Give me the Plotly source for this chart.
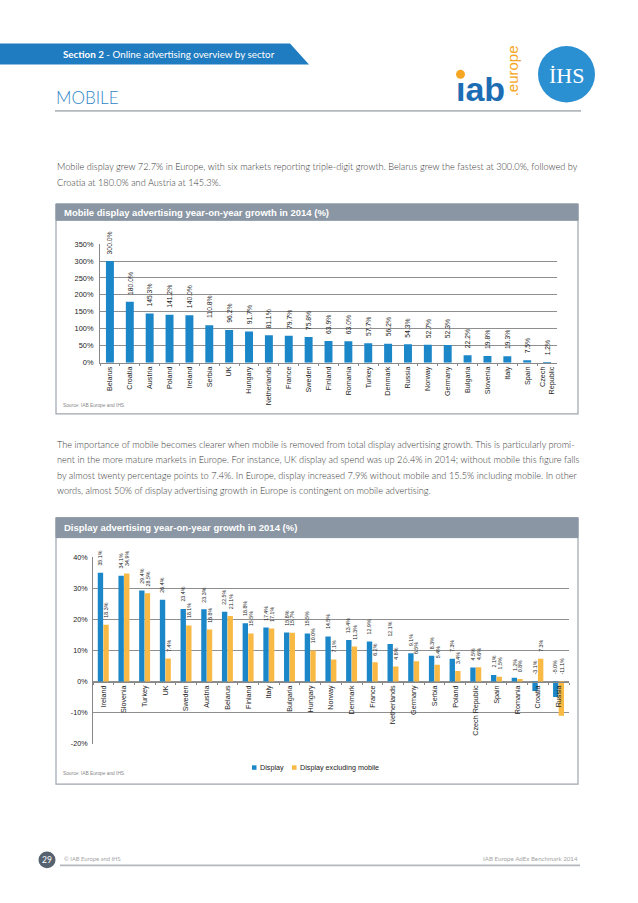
import plotly.graph_objects as go

W, H = 638, 903

# ---------------- data ----------------
mobile_countries = ["Belarus", "Croatia", "Austria", "Poland", "Ireland", "Serbia", "UK",
                    "Hungary", "Netherlands", "France", "Sweden", "Finland", "Romania",
                    "Turkey", "Denmark", "Russia", "Norway", "Germany", "Bulgaria",
                    "Slovenia", "Italy", "Spain", "Czech Republic"]
mobile_growth = [300.0, 180.0, 145.3, 141.2, 140.0, 110.8, 96.2, 91.7, 81.1, 79.7, 75.8,
                 63.9, 63.0, 57.7, 56.2, 54.3, 52.7, 52.3, 22.2, 19.8, 19.3, 7.5, 1.2]
mobile_ticklabels = ["Belarus", "Croatia", "Austria", "Poland", "Ireland", "Serbia", "UK",
                     "Hungary", "Netherlands", "France", "Sweden", "Finland", "Romania",
                     "Turkey", "Denmark", "Russia", "Norway", "Germany", "Bulgaria",
                     "Slovenia", "Italy", "Spain", "Czech<br>Republic"]
mobile_yticks = [0, 50, 100, 150, 200, 250, 300, 350]
mobile_yticklabels = ["0%", "50%", "100%", "150%", "200%", "250%", "300%", "350%"]

display_countries = ["Ireland", "Slovenia", "Turkey", "UK", "Sweden", "Austria", "Belarus",
                     "Finland", "Italy", "Bulgaria", "Hungary", "Norway", "Denmark", "France",
                     "Netherlands", "Germany", "Serbia", "Poland", "Czech Republic", "Spain",
                     "Romania", "Croatia", "Russia"]
display_growth = [35.1, 34.1, 29.4, 26.4, 23.4, 23.3, 22.5, 18.8, 17.4, 15.8, 15.5, 14.5,
                  13.4, 12.9, 12.1, 9.1, 8.3, 7.3, 4.5, 2.1, 1.2, -3.1, -5.0]
display_ex_mobile = [18.3, 34.9, 28.5, 7.4, 18.1, 16.8, 21.1, 15.5, 17.1, 15.7, 10.0, 7.1,
                     11.3, 6.2, 4.8, 6.5, 5.4, 3.4, 4.6, 1.5, 0.8, 7.3, -11.1]
display_yticks = [-20, -10, 0, 10, 20, 30, 40]
display_yticklabels = ["-20%", "-10%", "0%", "10%", "20%", "30%", "40%"]

series_names = ["Display", "Display excluding mobile"]

para1 = [
    "Mobile display grew 72.7% in Europe, with six markets reporting triple-digit growth. Belarus grew the fastest at 300.0%, followed by",
    "Croatia at 180.0% and Austria at 145.3%.",
]
para2 = [
    "The importance of mobile becomes clearer when mobile is removed from total display advertising growth. This is particularly promi-",
    "nent in the more mature markets in Europe. For instance, UK display ad spend was up 26.4% in 2014; without mobile this figure falls",
    "by almost twenty percentage points to 7.4%. In Europe, display increased 7.9% without mobile and 15.5% including mobile. In other",
    "words, almost 50% of display advertising growth in Europe is contingent on mobile advertising.",
]

# ---------------- style ----------------
BLUE = "#1b87c9"
ORANGE = "#f8b945"
SERIES_COLORS = [BLUE, ORANGE]
TITLEBAR = "#8a96a3"
BOXLINE = "#9ea6af"
GRID = "#8f8f8f"
CHART_FONT = "Liberation Sans, Arial, sans-serif"
PAGE_FONT = "Lato, Open Sans, sans-serif"


def fx(x):
    return x / W


def fy(y):
    return 1 - y / H


fig = go.Figure()

# chart 1 bars
fig.add_trace(go.Bar(
    x=mobile_countries, y=mobile_growth, marker=dict(color=BLUE, line=dict(width=0)),
    width=0.4, xaxis="x", yaxis="y", showlegend=False, hoverinfo="x+y",
))

# chart 2 bars
fig.add_trace(go.Bar(
    x=display_countries, y=display_growth, name=series_names[0],
    marker=dict(color=SERIES_COLORS[0], line=dict(width=0)), width=0.26, offset=-0.27,
    xaxis="x2", yaxis="y2", showlegend=False,
))
fig.add_trace(go.Bar(
    x=display_countries, y=display_ex_mobile, name=series_names[1],
    marker=dict(color=SERIES_COLORS[1], line=dict(width=0)), width=0.26, offset=0.0,
    xaxis="x2", yaxis="y2", showlegend=False,
))

annotations = []
shapes = []

# ---- data labels chart 1
for c, v in zip(mobile_countries, mobile_growth):
    annotations.append(dict(
        x=c, y=v, xref="x", yref="y", text=f"{v:.1f}%", showarrow=False,
        textangle=-90, xanchor="center", yanchor="bottom", yshift=5,
        font=dict(size=6.8, color="#222", family=CHART_FONT),
    ))

# ---- data labels chart 2
for c, v1, v2 in zip(display_countries, display_growth, display_ex_mobile):
    for v, sh in ((v1, -3), (v2, 3)):
        annotations.append(dict(
            x=c, y=max(v, 0), xref="x2", yref="y2", text=f"{v:.1f}%", showarrow=False,
            textangle=-90, xanchor="center", yanchor="bottom", yshift=5, xshift=sh,
            font=dict(size=5.3, color="#222", family=CHART_FONT),
        ))

# ---- page decorations
# section banner
banner = "M {} {} L {} {} L {} {} L {} {} Z".format(
    fx(0), fy(40), fx(290), fy(40), fx(309), fy(61), fx(0), fy(61))
shapes.append(dict(type="path", path=banner, xref="paper", yref="paper",
                   fillcolor="#1f7cc0", line=dict(width=0), layer="below"))
annotations.append(dict(
    x=fx(61), y=fy(51), xref="paper", yref="paper", xanchor="left", yanchor="middle",
    text="<b>Section 2</b> - Online advertising overview by sector", showarrow=False,
    font=dict(size=9.8, color="white", family=PAGE_FONT)))

annotations.append(dict(
    x=fx(54), y=fy(94), xref="paper", yref="paper", xanchor="left", yanchor="middle",
    text="MOBILE", showarrow=False,
    font=dict(size=17, color="#2f86c6", family=PAGE_FONT, weight=300)))
shapes.append(dict(type="line", xref="paper", yref="paper", x0=fx(55), x1=fx(581),
                   y0=fy(108), y1=fy(108), line=dict(color="#b3b8bd", width=1.6)))

# iab europe logo
annotations.append(dict(
    x=fx(454), y=fy(99), xref="paper", yref="paper", xanchor="left", yanchor="bottom",
    text="<b>\u0131ab</b>", showarrow=False, yshift=-8,
    font=dict(size=34, color="#1d6db5", family=CHART_FONT)))
shapes.append(dict(type="circle", xref="paper", yref="paper",
                   x0=fx(456), x1=fx(465), y0=fy(75.5), y1=fy(66.5),
                   fillcolor="#f5a623", line=dict(width=0)))
annotations.append(dict(
    x=fx(512), y=fy(68), xref="paper", yref="paper", xanchor="center", yanchor="middle",
    text=".europe", textangle=-90, showarrow=False,
    font=dict(size=15, color="#f5a623", family=CHART_FONT)))

# IHS logo
shapes.append(dict(type="circle", xref="paper", yref="paper",
                   x0=fx(538), x1=fx(595), y0=fy(99.5), y1=fy(42.5),
                   fillcolor="#2b90d2", line=dict(width=0)))
annotations.append(dict(
    x=fx(566.5), y=fy(72), xref="paper", yref="paper", xanchor="center", yanchor="middle",
    text="\u0130HS", showarrow=False,
    font=dict(size=22, color="white", family="Liberation Serif, DejaVu Serif, serif")))

# paragraphs
PARA_FONT = dict(size=9.2, color="#3a3a3a", family=PAGE_FONT, weight=300)
for i, line in enumerate(para1):
    annotations.append(dict(
        x=fx(55), y=fy(164.5 + 15.7 * i), xref="paper", yref="paper", xanchor="left",
        yanchor="middle", text=line, showarrow=False, font=PARA_FONT))
for i, line in enumerate(para2):
    annotations.append(dict(
        x=fx(55), y=fy(444.5 + 15.7 * i), xref="paper", yref="paper", xanchor="left",
        yanchor="middle", text=line, showarrow=False, font=PARA_FONT))

# chart boxes + title bars
for (top, tb, bottom, title) in ((202, 218.5, 414, "Mobile display advertising year-on-year growth in 2014 (%)"),
                                 (519, 539, 788, "Display advertising year-on-year growth in 2014 (%)")):
    shapes.append(dict(type="rect", xref="paper", yref="paper", x0=fx(56), x1=fx(578),
                       y0=fy(bottom), y1=fy(top), fillcolor="white",
                       line=dict(color=BOXLINE, width=1.2), layer="below"))
    shapes.append(dict(type="rect", xref="paper", yref="paper", x0=fx(56), x1=fx(578),
                       y0=fy(tb), y1=fy(top), fillcolor=TITLEBAR,
                       line=dict(color=TITLEBAR, width=1), layer="below"))
    annotations.append(dict(
        x=fx(62), y=fy((top + tb) / 2), xref="paper", yref="paper", xanchor="left",
        yanchor="middle", text=f"<b>{title}</b>", showarrow=False,
        font=dict(size=9.5, color="white", family=CHART_FONT)))

# sources
for ys in (406, 777):
    annotations.append(dict(
        x=fx(61), y=fy(ys), xref="paper", yref="paper", xanchor="left", yanchor="middle",
        text="Source: IAB Europe and IHS", showarrow=False,
        font=dict(size=4.8, color="#888", family=CHART_FONT)))

# legend for chart 2 (compact, as in the original)
legend_items = [(252, 258, series_names[0]), (292, 298, series_names[1])]
for (sx, tx, name), col in zip(legend_items, SERIES_COLORS):
    shapes.append(dict(type="rect", xref="paper", yref="paper", x0=fx(sx), x1=fx(sx + 4.5),
                       y0=fy(773.5), y1=fy(769), fillcolor=col, line=dict(width=0)))
    annotations.append(dict(
        x=fx(tx), y=fy(771.5), xref="paper", yref="paper", xanchor="left", yanchor="middle",
        text=name, showarrow=False, font=dict(size=7.2, color="#222", family=CHART_FONT)))

# footer
shapes.append(dict(type="circle", xref="paper", yref="paper",
                   x0=fx(38.5), x1=fx(55.5), y0=fy(873), y1=fy(856),
                   fillcolor="#566270", line=dict(width=0)))
annotations.append(dict(
    x=fx(47), y=fy(864.5), xref="paper", yref="paper", xanchor="center", yanchor="middle",
    text="29", showarrow=False, font=dict(size=8.5, color="white", family=PAGE_FONT)))
annotations.append(dict(
    x=fx(62), y=fy(863), xref="paper", yref="paper", xanchor="left", yanchor="middle",
    text="\u00a9 IAB Europe and IHS", showarrow=False,
    font=dict(size=5.8, color="#a5a5a5", family=PAGE_FONT)))
annotations.append(dict(
    x=fx(580), y=fy(863), xref="paper", yref="paper", xanchor="right", yanchor="middle",
    text="IAB Europe AdEx Benchmark 2014", showarrow=False,
    font=dict(size=6.2, color="#a5a5a5", family=PAGE_FONT)))
shapes.append(dict(type="line", xref="paper", yref="paper", x0=fx(60), x1=fx(580),
                   y0=fy(870), y1=fy(870), line=dict(color="#b3b8bd", width=1.6)))

# ---- axes geometry
y1_bottom, y1_top = fy(362.3), fy(242.3)
y2_bottom, y2_top = fy(747), fy(559)
y2_range = [-20, 40]
zero_pos = y2_bottom + (0 - y2_range[0]) / (y2_range[1] - y2_range[0]) * (y2_top - y2_bottom)

tickfont = dict(size=7.2, color="#222", family=CHART_FONT)

fig.update_layout(
    width=W, height=H, margin=dict(l=0, r=0, t=0, b=0),
    paper_bgcolor="white", plot_bgcolor="rgba(0,0,0,0)",
    barmode="overlay", showlegend=False,
    font=dict(family=CHART_FONT),
    xaxis=dict(domain=[fx(100), fx(557)], anchor="y", type="category",
               tickmode="array", tickvals=mobile_countries, ticktext=mobile_ticklabels,
               tickangle=-90, tickfont=tickfont, showgrid=False,
               showline=True, linecolor="#888", linewidth=1,
               ticks="outside", tickson="boundaries", ticklen=2, tickcolor="#888",
               fixedrange=True),
    yaxis=dict(domain=[y1_bottom, y1_top], anchor="x", range=[0, 350.5],
               tickmode="array", tickvals=mobile_yticks, ticktext=mobile_yticklabels,
               tickfont=dict(size=7.4, color="#222", family=CHART_FONT),
               showgrid=True, gridcolor=GRID, gridwidth=1, zeroline=False,
               showline=True, linecolor="#888", linewidth=1, ticks="",
               ticklabelstandoff=4, fixedrange=True),
    xaxis2=dict(domain=[fx(93), fx(569)], anchor="free", position=zero_pos, type="category",
                tickangle=-90, tickfont=tickfont, showgrid=False,
                showline=True, linecolor="#888", linewidth=1,
                ticks="outside", tickson="boundaries", ticklen=2, tickcolor="#888",
                fixedrange=True),
    yaxis2=dict(domain=[y2_bottom, y2_top], anchor="x2", range=[-20.05, 40.05],
                tickmode="array", tickvals=display_yticks, ticktext=display_yticklabels,
                tickfont=dict(size=7.2, color="#222", family=CHART_FONT),
                showgrid=True, gridcolor=GRID, gridwidth=1, zeroline=False,
                showline=True, linecolor="#888", linewidth=1, ticks="",
                ticklabelstandoff=3, fixedrange=True),
    shapes=shapes,
    annotations=annotations,
)

fig.write_html(
    "out.html",
    config={"displayModeBar": False},
    post_script="document.body.style.margin='0px';document.body.style.overflow='hidden';",
)
